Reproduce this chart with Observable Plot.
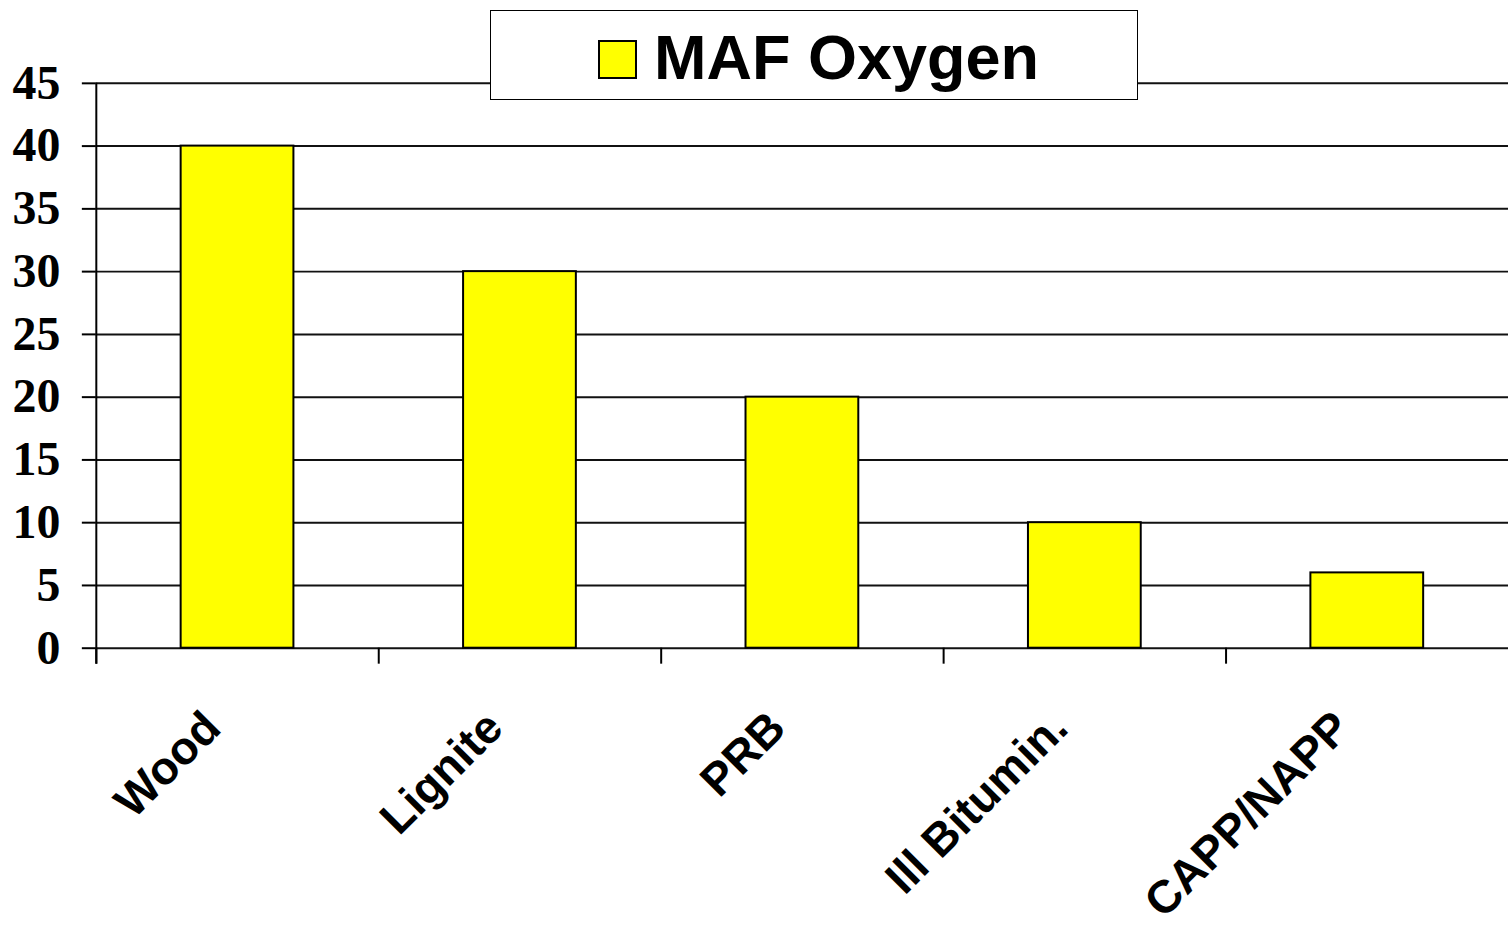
<!DOCTYPE html>
<html>
<head>
<meta charset="utf-8">
<script src="https://cdn.jsdelivr.net/npm/d3@7"></script>
<script src="https://cdn.jsdelivr.net/npm/@observablehq/plot@0.6"></script>
<style>
  html, body { margin: 0; padding: 0; background: #fff; overflow: hidden; }
  #wrap { position: relative; width: 1508px; height: 926px; overflow: hidden; }
  #legend {
    position: absolute; left: 490px; top: 10px; width: 646px; height: 88px;
    border: 1.5px solid #000; background: #fff; box-sizing: content-box;
    font-family: "Liberation Sans", Arial, sans-serif; font-weight: bold; font-size: 63px;
  }
  #legend .sw {
    position: absolute; left: 107px; top: 29px; width: 35px; height: 35px;
    background: #ffff00; border: 2px solid #000;
  }
  #legend .lab { position: absolute; left: 163px; top: 11px; line-height: 70px; color: #000; }
</style>
</head>
<body>
<div id="wrap">
  <div id="chart"></div>
  <div id="legend"><div class="sw"></div><div class="lab"></div></div>
</div>
<script>
const categories = ["Wood", "Lignite", "PRB", "Ill Bitumin.", "CAPP/NAPP"];
const values = [40, 30, 20, 10, 6];
const yTicks = [0, 5, 10, 15, 20, 25, 30, 35, 40, 45];
const seriesName = "MAF Oxygen";

const data = categories.map((c, i) => ({category: c, value: values[i]}));

const W = 1511, H = 926, mL = 96, mR = 0, mT = 83, mB = 277;
const step = (W - mL - mR) / categories.length;

const chart = Plot.plot({
  width: W,
  height: H,
  marginLeft: mL,
  marginRight: mR,
  marginTop: mT,
  marginBottom: mB,
  style: {background: "#fff", overflow: "visible"},
  x: {type: "band", domain: categories, paddingInner: 0.6, paddingOuter: 0.3, label: null},
  y: {domain: [0, 45], label: null},
  marks: [
    Plot.gridY(yTicks, {stroke: "#111", strokeOpacity: 1, strokeWidth: 2}),
    Plot.axisY({ticks: yTicks, tickSize: 14, tickPadding: 22, strokeWidth: 2,
      fontSize: 48, fontFamily: "Liberation Serif", fontWeight: "bold", fill: "#000", label: null}),
    Plot.barY(data, {x: "category", y: "value", fill: "#ffff00", stroke: "#000", strokeWidth: 2}),
    Plot.ruleX([categories[0]], {x: d => d, dx: -step / 2, y1: 45, y2: 0, insetBottom: -16, stroke: "#000", strokeWidth: 2}),
    Plot.ruleX(categories, {x: d => d, dx: -step / 2, y1: 0, y2: 0, insetBottom: -16, stroke: "#000", strokeWidth: 2}),
    Plot.axisX({tickSize: 0, tickPadding: 72, tickRotate: -45, dx: -25,
      fontSize: 46, fontFamily: "Liberation Sans", fontWeight: "bold", fill: "#000", label: null})
  ]
});
document.getElementById("chart").appendChild(chart);
document.querySelector("#legend .lab").textContent = seriesName;
</script>
</body>
</html>
